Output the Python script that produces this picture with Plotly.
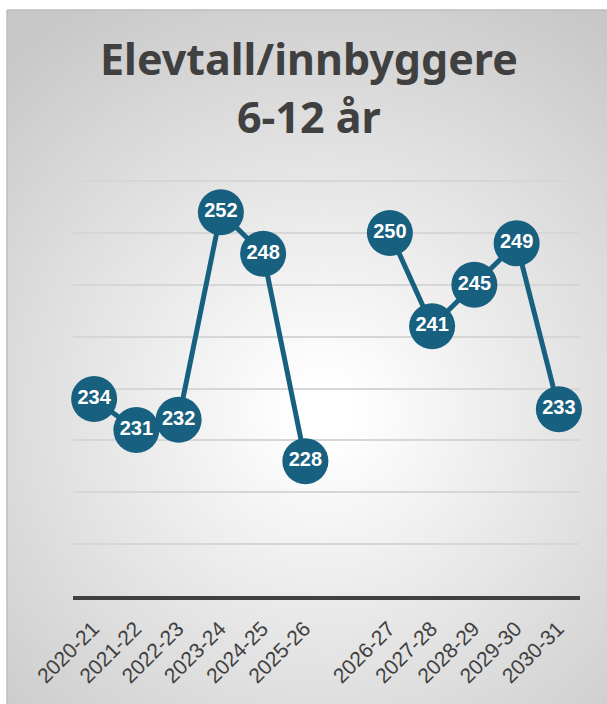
import base64
import plotly.graph_objects as go

# ---- data ----
categories = ["2020-21", "2021-22", "2022-23", "2023-24", "2024-25", "2025-26", "",
              "2026-27", "2027-28", "2028-29", "2029-30", "2030-31"]
values = [234, 231, 232, 252, 248, 228, None, 250, 241, 245, 249, 233]
y_ticks = [215, 220, 225, 230, 235, 240, 245, 250, 255]
title_lines = ["Elevtall/innbyggere", "6-12 år"]

W, H = 607, 704
L, R, T, B = 73, 27, 179, 108
pw, ph = W - L - R, H - T - B

def px_to_paper_x(px):
    return (px - L) / pw

def py_to_paper_y(py):
    return (H - B - py) / ph

box_left, box_top = 7, 10
bw, bh = W - box_left + 10, H - box_top + 10
svg = (f"<svg xmlns='http://www.w3.org/2000/svg' width='{bw}' height='{bh}' viewBox='0 0 {bw} {bh}' preserveAspectRatio='none'>"
       f"<defs><radialGradient id='g' gradientUnits='userSpaceOnUse' cx='{int(bw*0.52)}' cy='{int(bh*0.57)}' r='470'>"
       "<stop offset='0.06' stop-color='#ffffff'/><stop offset='1' stop-color='#c8c8c8'/></radialGradient></defs>"
       f"<rect width='{bw}' height='{bh}' fill='url(#g)'/></svg>")
svg_uri = "data:image/svg+xml;base64," + base64.b64encode(svg.encode()).decode()

xs = list(range(len(categories)))

fig = go.Figure()
fig.add_trace(go.Scatter(
    x=xs, y=values,
    mode="lines+markers+text",
    line=dict(color="#176080", width=5),
    marker=dict(color="#176080", size=46),
    text=[str(v) if v is not None else "" for v in values],
    textposition="middle center",
    textfont=dict(color="white", size=20, family="Liberation Sans, Arial", weight="bold"),
    connectgaps=False,
    hoverinfo="skip",
    cliponaxis=False,
))

x0 = px_to_paper_x(box_left)
y0 = py_to_paper_y(box_top)
fig.add_layout_image(dict(
    source=svg_uri, xref="paper", yref="paper",
    x=x0, y=y0, sizex=px_to_paper_x(W + 10) - x0, sizey=y0 - py_to_paper_y(H + 10),
    xanchor="left", yanchor="top", sizing="stretch", layer="below",
))
fig.add_shape(type="line", xref="paper", yref="paper",
              x0=x0, x1=px_to_paper_x(W + 10), y0=y0, y1=y0,
              line=dict(color="#bdbdbd", width=1.5))
fig.add_shape(type="line", xref="paper", yref="paper",
              x0=x0, x1=x0, y0=y0, y1=py_to_paper_y(H + 10),
              line=dict(color="#bdbdbd", width=1.5))

title_font = dict(family="Noto Sans", size=43, color="#404040", weight="bold")
for line_text, baseline in zip(title_lines, [75, 133]):
    fig.add_annotation(text=line_text, xref="paper", yref="paper",
                       x=px_to_paper_x(309), y=py_to_paper_y(baseline - 17),
                       xanchor="center", yanchor="middle", showarrow=False,
                       font=title_font)

fig.update_layout(
    width=W, height=H,
    margin=dict(l=L, r=R, t=T, b=B),
    paper_bgcolor="white",
    plot_bgcolor="rgba(0,0,0,0)",
    showlegend=False,
    xaxis=dict(
        range=[-0.5, len(categories) - 0.5],
        tickvals=xs, ticktext=categories, tickangle=-45,
        tickfont=dict(family="Liberation Sans, Arial", size=21, color="#404040"),
        ticklabelstandoff=8, ticklabelshift=-1,
        showgrid=False, zeroline=False,
        showline=True, linecolor="#404040", linewidth=4,
        ticks="", fixedrange=True,
    ),
    yaxis=dict(
        range=[215, 255.2], tickvals=y_ticks, showticklabels=False,
        showgrid=True, gridcolor="#d6d6d6", gridwidth=1.5,
        zeroline=False, showline=False, fixedrange=True,
    ),
)

fig.write_html("out.html", config={"displayModeBar": False},
               post_script="document.body.style.margin='0px';document.body.style.overflow='hidden';"
                           "document.documentElement.style.overflow='hidden';"
                           "document.body.style.background='#cbcbcb';"
                           "document.documentElement.style.background='#cbcbcb';")
